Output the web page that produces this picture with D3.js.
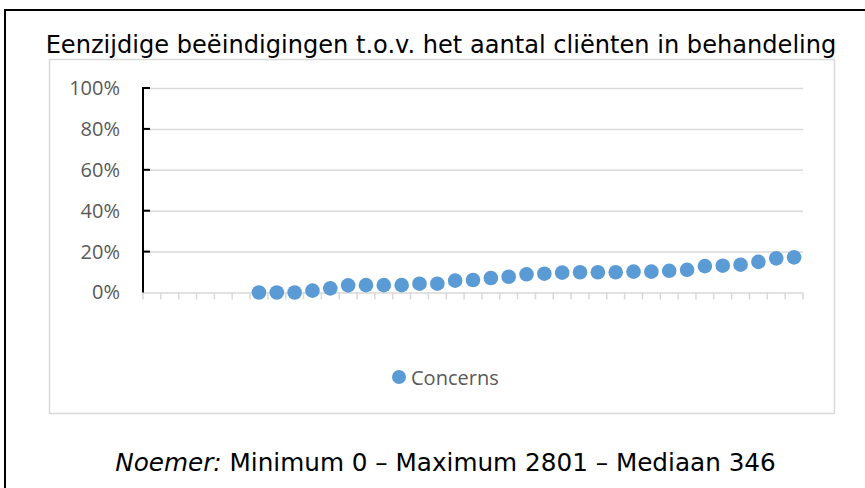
<!DOCTYPE html>
<html>
<head>
<meta charset="utf-8">
<script src="https://cdn.jsdelivr.net/npm/d3@7"></script>
<style>
  html, body { margin: 0; padding: 0; background: #fff; }
  svg { display: block; }
</style>
</head>
<body>
<div id="chart"></div>
<script>
// values per concern, as share of clients in treatment (first six have no value)
const seriesName = "Concerns";
const shares = [
  null, null, null, null, null, null,
  0.000, 0.000, 0.000, 0.009, 0.020, 0.035, 0.036, 0.036, 0.036, 0.043,
  0.043, 0.058, 0.061, 0.071, 0.077, 0.089, 0.092, 0.097, 0.099, 0.099,
  0.099, 0.102, 0.102, 0.106, 0.111, 0.129, 0.131, 0.136, 0.150, 0.167,
  0.172
];
const categories = shares.map((_, i) => i);
const yTicks = [0, 0.2, 0.4, 0.6, 0.8, 1.0];

const titleText = "Eenzijdige beëindigingen t.o.v. het aantal cliënten in behandeling";
const noteItalic = "Noemer:";
const noteText = " Minimum 0 – Maximum 2801 – Mediaan 346";

const width = 865;
const height = 488;
const plot = { left: 143, right: 803, top: 88, bottom: 292.5 };
const blue = "#5b9bd5";
const grid = "#d9d9d9";

const svg = d3.select("#chart")
  .append("svg")
  .attr("width", width)
  .attr("height", height);

// outer frame (runs off the right and bottom edge)
svg.append("rect")
  .attr("x", 5).attr("y", 10)
  .attr("width", 900).attr("height", 520)
  .attr("fill", "#fff")
  .attr("stroke", "#000")
  .attr("stroke-width", 2);

// chart area box
svg.append("rect")
  .attr("x", 49.5).attr("y", 59.5)
  .attr("width", 785).attr("height", 354)
  .attr("fill", "#fff")
  .attr("stroke", grid)
  .attr("stroke-width", 1.5);

svg.append("text")
  .attr("x", 441).attr("y", 53)
  .attr("text-anchor", "middle")
  .attr("font-family", "'DejaVu Sans', Verdana, sans-serif")
  .attr("font-size", 24.1)
  .attr("fill", "#000")
  .text(titleText);

const x = d3.scaleBand()
  .domain(categories)
  .range([plot.left, plot.right])
  .padding(0);

const y = d3.scaleLinear()
  .domain([0, 1])
  .range([plot.bottom, plot.top]);

// horizontal gridlines + tick labels
const yAxis = d3.axisLeft(y)
  .tickValues(yTicks)
  .tickFormat(d3.format(".0%"))
  .tickSize(-(plot.right - plot.left))
  .tickPadding(23);

const yg = svg.append("g")
  .attr("transform", `translate(${plot.left},0)`)
  .call(yAxis);
yg.select(".domain").remove();
yg.selectAll(".tick line").attr("stroke", grid).attr("stroke-width", 1.5);
yg.selectAll(".tick text")
  .attr("font-family", "'Open Sans', sans-serif")
  .attr("font-size", 20)
  .attr("fill", "#595959");

// category ticks under the 0% line
const bounds = categories.map((c) => x(c)).concat([plot.right]);
svg.append("g")
  .selectAll("line")
  .data(bounds)
  .join("line")
  .attr("x1", (d) => d).attr("x2", (d) => d)
  .attr("y1", plot.bottom).attr("y2", plot.bottom + 7)
  .attr("stroke", grid)
  .attr("stroke-width", 1.5);

// black value axis with inner ticks
svg.append("line")
  .attr("x1", plot.left).attr("x2", plot.left)
  .attr("y1", y(1) - 1).attr("y2", y(0))
  .attr("stroke", "#000")
  .attr("stroke-width", 2);
svg.append("g")
  .selectAll("line")
  .data(yTicks.slice(1))
  .join("line")
  .attr("x1", plot.left).attr("x2", plot.left + 7)
  .attr("y1", (d) => y(d)).attr("y2", (d) => y(d))
  .attr("stroke", "#000")
  .attr("stroke-width", 2);

// markers
svg.append("g")
  .selectAll("circle")
  .data(shares.map((v, i) => ({ cat: categories[i], v })).filter((d) => d.v !== null))
  .join("circle")
  .attr("cx", (d) => x(d.cat) + x.bandwidth() / 2)
  .attr("cy", (d) => y(d.v))
  .attr("r", 7.3)
  .attr("fill", blue);

// legend
const legend = svg.append("g").attr("transform", "translate(399,377)");
legend.append("circle").attr("r", 7).attr("fill", blue);
legend.append("text")
  .attr("x", 12).attr("y", 8)
  .attr("font-family", "'Open Sans', sans-serif")
  .attr("font-size", 20)
  .attr("fill", "#595959")
  .text(seriesName);

// footnote
const note = svg.append("text")
  .attr("x", 445.5).attr("y", 471)
  .attr("text-anchor", "middle")
  .attr("font-family", "'DejaVu Sans', Verdana, sans-serif")
  .attr("font-size", 24.7)
  .attr("fill", "#000");
note.append("tspan").attr("font-style", "italic").text(noteItalic);
note.append("tspan").text(noteText);
</script>
</body>
</html>
